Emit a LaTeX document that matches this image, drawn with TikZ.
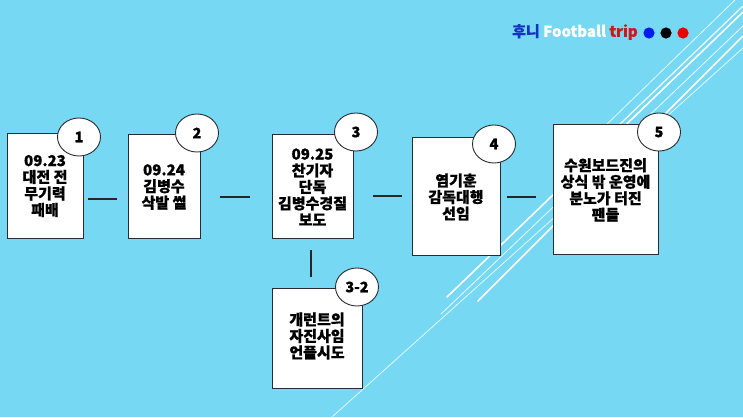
\documentclass[tikz,border=0pt]{standalone}
\usepackage{fontspec}
\newfontfamily\kr{Noto Sans CJK KR}[BoldFeatures={FakeBold=0.7}]
\definecolor{bgblue}{RGB}{118,216,242}
\definecolor{edge}{RGB}{40,44,48}
\definecolor{titleblue}{RGB}{20,50,200}
\definecolor{titlered}{RGB}{205,25,30}
\definecolor{dotblue}{RGB}{0,30,235}
\definecolor{dotred}{RGB}{235,0,0}
\tikzset{
  card/.style={draw=edge, line width=1pt, fill=white},
  cardtext/.style={font=\kr\bfseries\fontsize{15}{16.5}\selectfont, align=center, text=black, inner sep=0pt},
  badge/.style={draw=edge, line width=0.9pt, fill=white, ellipse, minimum width=43pt, minimum height=38pt, inner sep=0pt, font=\kr\bfseries\fontsize{14.5}{14}\selectfont},
  link/.style={draw=black!85, line width=1.6pt},
  deco/.style={draw=white, line cap=round}
}
\usetikzlibrary{shapes.geometric}
\begin{document}
\begin{tikzpicture}[x=1pt,y=-1pt]
\fill[bgblue] (0,0) rectangle (743,417);
\useasboundingbox (0,0) rectangle (743,417);
% decorative diagonal lines
\draw[deco, line width=0.8pt, opacity=0.8] (332,417) -- (743,48);
\draw[deco, line width=1.6pt] (447,297) -- (743,12);
\draw[deco, line width=0.8pt, opacity=0.85] (441,314) -- (743,26);
\draw[deco, line width=1.6pt] (478,301) -- (743,36);
\draw[deco, line width=0.8pt, opacity=0.8] (605,126) -- (735,0);
\draw[deco, line width=1.2pt, opacity=0.9] (618,126) -- (743,6);
% title
\node[anchor=west, inner sep=0pt, font=\kr\bfseries\fontsize{15}{15}\selectfont] (title) at (512,32)
  {\textcolor{titleblue}{후니} \textcolor{white}{Football} \textcolor{titlered}{trip}};
\fill[dotblue] (649,33) circle (5.6);
\fill[black] (666,33) circle (5.6);
\fill[dotred] (683,33) circle (5.6);
% cards
\path[card] (7,133) rectangle (83,238);
\node[cardtext] (t1) at (45,186) {09.23\\대전 전\\무기력\\패배};
\path[card] (128,134) rectangle (200,238);
\node[cardtext] (t2) at (164,187) {09.24\\김병수\\삭발 썰};
\path[card] (272,134) rectangle (353,238);
\node[cardtext] (t3) at (312.5,187) {09.25\\찬기자\\단독\\김병수경질\\보도};
\path[card] (412,137) rectangle (500,255);
\node[cardtext] (t4) at (456,197) {염기훈\\감독대행\\선임};
\path[card] (553,124) rectangle (658,254);
\node[cardtext] (t5) at (605.5,190) {수원보드진의\\상식 밖 운영에\\분노가 터진\\팬들};
\path[card] (272,288) rectangle (362,388);
\node[cardtext] (t6) at (317,336) {개런트의\\자진사임\\언플시도};
% connector end points
\coordinate (c1a) at (88,199); \coordinate (c1b) at (117,199);
\coordinate (c2a) at (220,197); \coordinate (c2b) at (250,197);
\coordinate (c3a) at (373,196); \coordinate (c3b) at (402,196);
\coordinate (c4a) at (507,197); \coordinate (c4b) at (536,197);
\coordinate (c5a) at (311,250); \coordinate (c5b) at (311,277);
\draw[link] (c1a) -- (c1b);
\draw[link] (c2a) -- (c2b);
\draw[link] (c3a) -- (c3b);
\draw[link] (c4a) -- (c4b);
\draw[link] (c5a) -- (c5b);
% badges
\node[badge] (b1) at (79,137) {1};
\node[badge] (b2) at (197,133) {2};
\node[badge] (b3) at (356,132) {3};
\node[badge] (b4) at (494,144) {4};
\node[badge] (b5) at (659,132) {5};
\node[badge] (b6) at (357,287) {3-2};
\end{tikzpicture}
\end{document}
